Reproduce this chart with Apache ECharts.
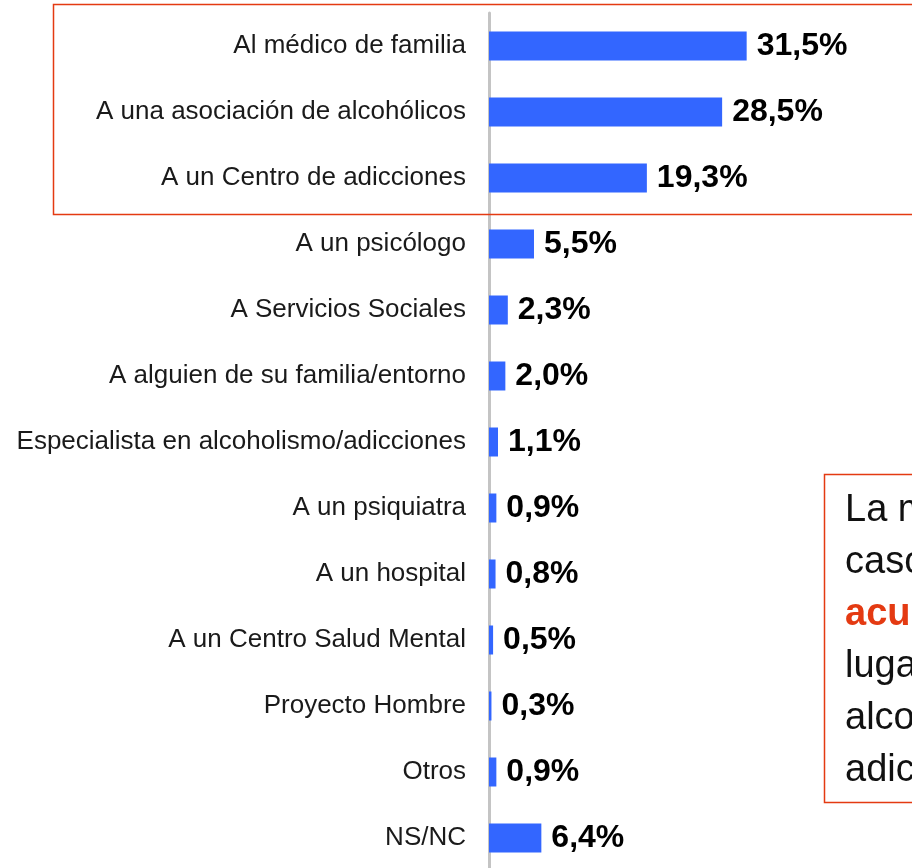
<!DOCTYPE html>
<html>
<head>
<meta charset="utf-8">
<script src="https://cdn.jsdelivr.net/npm/echarts@6/dist/echarts.min.js"></script>
<style>
  html, body { margin: 0; padding: 0; background: #fff; }
  #chart { width: 912px; height: 868px; }
</style>
</head>
<body>
<div id="chart"></div>
<script>
  var categories = [
    "Al médico de familia",
    "A una asociación de alcohólicos",
    "A un Centro de adicciones",
    "A un psicólogo",
    "A Servicios Sociales",
    "A alguien de su familia/entorno",
    "Especialista en alcoholismo/adicciones",
    "A un psiquiatra",
    "A un hospital",
    "A un Centro Salud Mental",
    "Proyecto Hombre",
    "Otros",
    "NS/NC"
  ];
  var values = [31.5, 28.5, 19.3, 5.5, 2.3, 2.0, 1.1, 0.9, 0.8, 0.5, 0.3, 0.9, 6.4];

  // texto del recuadro (cortado por el borde derecho)
  var noteLines = [
    "La mayoría de los",
    "casos (79,3%)",
    "acudirían en primer",
    "lugar al médico, a",
    "alcohólicos o a un centro de",
    "adicciones"
  ];

  var red = "#e43a12";
  var font = "'Liberation Sans', Arial, sans-serif";

  var chart = echarts.init(document.getElementById("chart"));

  var graphics = [
    {
      type: "rect",
      shape: { x: 53.5, y: 4.5, width: 900, height: 210 },
      style: { fill: "none", stroke: red, lineWidth: 1.5 },
      z: 10
    },
    {
      type: "rect",
      shape: { x: 824.5, y: 474.5, width: 200, height: 328 },
      style: { fill: "#fff", stroke: red, lineWidth: 1.5 },
      z: 10
    }
  ];
  noteLines.forEach(function (t, i) {
    graphics.push({
      type: "text",
      x: 845,
      y: 511 + 52 * i,
      z: 11,
      style: {
        text: t,
        fontFamily: font,
        fontSize: 38,
        fontWeight: i === 2 ? "bold" : "normal",
        fill: i === 2 ? red : "#111",
        verticalAlign: "middle"
      }
    });
  });

  var option = {
    backgroundColor: "#fff",
    animation: false,
    grid: {
      left: 489,
      right: 14,
      top: 13,
      height: 858,
      outerBoundsMode: "none"
    },
    xAxis: {
      type: "value",
      min: 0,
      max: 50,
      show: false
    },
    yAxis: {
      type: "category",
      data: categories,
      inverse: true,
      offset: 2,
      axisLine: {
        lineStyle: { color: "#c4c4c4", width: 3 }
      },
      axisTick: { show: false },
      axisLabel: {
        margin: 21,
        color: "#1a1a1a",
        fontSize: 26,
        fontFamily: font
      }
    },
    series: [
      {
        type: "bar",
        data: values,
        barWidth: 29,
        itemStyle: { color: "#3366ff" },
        label: {
          show: true,
          position: "right",
          distance: 10,
          color: "#000",
          fontSize: 32,
          fontWeight: "bold",
          fontFamily: font,
          formatter: function (p) {
            return p.value.toFixed(1).replace(".", ",") + "%";
          }
        }
      }
    ],
    graphic: graphics
  };
  chart.setOption(option);
</script>
</body>
</html>
